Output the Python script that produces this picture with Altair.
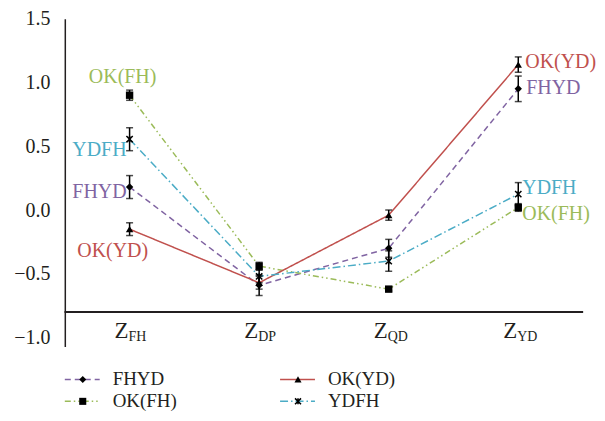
import altair as alt
import pandas as pd

# ---------------- data ----------------
categories = ["Z_FH", "Z_DP", "Z_QD", "Z_YD"]
cat_subs = ["FH", "DP", "QD", "YD"]
series = ["FHYD", "OK(FH)", "OK(YD)", "YDFH"]

fhyd = [0.18, -0.59, -0.30, 0.95]
fhyd_err = [0.09, 0.08, 0.07, 0.10]
okfh = [0.90, -0.44, -0.62, 0.02]
okfh_err = [0.04, 0.03, 0.015, 0.03]
okyd = [-0.15, -0.57, -0.04, 1.14]
okyd_err = [0.05, 0.05, 0.04, 0.06]
ydfh = [0.555, -0.52, -0.40, 0.125]
ydfh_err = [0.09, 0.05, 0.08, 0.09]

y_ticks = [-1.0, -0.5, 0.0, 0.5, 1.0, 1.5]

# ---------------- styles ----------------
colors = ["#8064A2", "#9BBB59", "#C0504D", "#4BACC6"]
dashes = [[6, 4], [6, 3, 1.5, 3, 1.5, 3], [1, 0], [8, 3, 1.5, 3]]
star_path = "M-1,-1L1,1M-1,1L1,-1M0,-1L0,1"
FONT = "Liberation Serif"
INK = "#231f20"

vals = {"FHYD": (fhyd, fhyd_err), "OK(FH)": (okfh, okfh_err),
        "OK(YD)": (okyd, okyd_err), "YDFH": (ydfh, ydfh_err)}
rows = []
for s in series:
    v, e = vals[s]
    for c, vv, ee in zip(categories, v, e):
        rows.append({"series": s, "cat": c, "value": vv, "lo": vv - ee, "hi": vv + ee})
df = pd.DataFrame(rows)

cat_df = pd.DataFrame({"cat": categories, "sub": cat_subs})

xscale = alt.Scale(type="point", domain=categories, padding=0.5)
yscale = alt.Scale(domain=[-1.07, 1.5], nice=False, zero=False)
yaxis = alt.Axis(values=y_ticks, format=".1f", ticks=False, grid=False,
                 domainColor=INK, domainWidth=1.5, labelFont=FONT,
                 labelFontSize=20, labelColor=INK, labelPadding=15, title=None)
color_scale = alt.Scale(domain=series, range=colors)
dash_scale = alt.Scale(domain=series, range=dashes)


def X(f="cat"):
    return alt.X(f"{f}:N", scale=xscale, axis=None)


def Y(f="value"):
    return alt.Y(f"{f}:Q", scale=yscale, axis=yaxis)


base = alt.Chart(df)

hline = alt.Chart(cat_df).mark_rule(color=INK, strokeWidth=1.5).encode(
    y=alt.datum(-0.8, scale=yscale, axis=yaxis),
    x=alt.value(0), x2=alt.value(520))

lines = base.mark_line(strokeWidth=1.5).encode(
    x=X(), y=Y(),
    color=alt.Color("series:N", scale=color_scale, legend=None),
    strokeDash=alt.StrokeDash("series:N", scale=dash_scale, legend=None),
    detail="series:N")

err = base.mark_rule(color="black", strokeWidth=1.5).encode(
    x=X(), y=Y("lo"), y2="hi:Q")
cap_lo = base.mark_tick(color="black", thickness=1.5, size=7, orient="horizontal").encode(
    x=X(), y=Y("lo"))
cap_hi = base.mark_tick(color="black", thickness=1.5, size=7, orient="horizontal").encode(
    x=X(), y=Y("hi"))

shape_scale = alt.Scale(domain=["FHYD", "OK(FH)", "OK(YD)"],
                        range=["diamond", "square", "triangle-up"])
filled_pts = base.transform_filter(alt.datum.series != "YDFH").mark_point(
    filled=True, color="black", opacity=1, size=55).encode(
    x=X(), y=Y(), shape=alt.Shape("series:N", scale=shape_scale, legend=None))
star_pts = base.transform_filter(alt.datum.series == "YDFH").mark_point(
    shape=star_path, filled=False, color="black", strokeWidth=1.5, size=40,
    opacity=1).encode(x=X(), y=Y())

# data labels: (series, category, align, dx, dy)
label_specs = [
    ("OK(FH)", "Z_FH", "center", -7, -18),
    ("YDFH", "Z_FH", "right", -3, 11),
    ("FHYD", "Z_FH", "right", -3, 5),
    ("OK(YD)", "Z_FH", "center", -17, 22),
    ("OK(YD)", "Z_YD", "left", 7, -3),
    ("FHYD", "Z_YD", "left", 8, -1),
    ("YDFH", "Z_YD", "left", 4, -6),
    ("OK(FH)", "Z_YD", "left", 4, 7),
]
label_layers = []
for s, c, al, dx, dy in label_specs:
    label_layers.append(
        base.transform_filter((alt.datum.series == s) & (alt.datum.cat == c))
        .mark_text(align=al, baseline="middle", dx=dx, dy=dy, font=FONT,
                   fontSize=20, color=colors[series.index(s)])
        .encode(x=X(), y=Y(), text="series:N"))

z_txt = alt.Chart(cat_df).mark_text(
    text="Z", align="right", baseline="alphabetic", font=FONT, fontSize=23,
    color=INK, dx=-1).encode(x=X(), y=alt.datum(-1.0, scale=yscale, axis=yaxis))
sub_txt = alt.Chart(cat_df).mark_text(
    align="left", baseline="alphabetic", font=FONT, fontSize=14, color=INK,
    dx=-1, dy=3).encode(x=X(), y=alt.datum(-1.0, scale=yscale, axis=yaxis),
                       text="sub:N")

main = alt.layer(hline, lines, err, cap_lo, cap_hi, filled_pts, star_pts,
                 *label_layers, z_txt, sub_txt).properties(width=520, height=329)

# ---------------- legend panel ----------------
leg_df = pd.DataFrame({"series": series, "col": [0, 0, 1, 1], "row": [0, 1, 0, 1]})
lx = alt.Scale(domain=[0, 1], range=[0, 216])
ly = alt.Scale(domain=[0, 1], range=[31, 53])
leg = alt.Chart(leg_df).transform_calculate(
    x_end="datum.col + 35/216", xm="datum.col + 18/216", xt="datum.col + 48/216")
leg_line = leg.mark_rule(strokeWidth=1.5).encode(
    x=alt.X("col:Q", scale=lx, axis=None), x2="x_end:Q",
    y=alt.Y("row:Q", scale=ly, axis=None),
    color=alt.Color("series:N", scale=color_scale, legend=None),
    strokeDash=alt.StrokeDash("series:N", scale=dash_scale, legend=None))
leg_pts = leg.transform_filter(alt.datum.series != "YDFH").mark_point(
    filled=True, color="black", opacity=1, size=50).encode(
    x=alt.X("xm:Q", scale=lx, axis=None), y=alt.Y("row:Q", scale=ly, axis=None),
    shape=alt.Shape("series:N", scale=shape_scale, legend=None))
leg_star = leg.transform_filter(alt.datum.series == "YDFH").mark_point(
    shape=star_path, filled=False, color="black", strokeWidth=1.5, size=36,
    opacity=1).encode(
    x=alt.X("xm:Q", scale=lx, axis=None), y=alt.Y("row:Q", scale=ly, axis=None))
leg_txt = leg.mark_text(align="left", baseline="middle", font=FONT, fontSize=19,
                        color=INK).encode(
    x=alt.X("xt:Q", scale=lx, axis=None), y=alt.Y("row:Q", scale=ly, axis=None),
    text="series:N")
legend = alt.layer(leg_line, leg_pts, leg_star, leg_txt).properties(width=520, height=53)

chart = alt.vconcat(main, legend, spacing=0).properties(
    padding={"left": 5, "top": 0, "right": 0, "bottom": 0}
).configure_view(stroke=None).resolve_scale(color="shared")

chart.save("out.html", embed_options={"renderer": "svg", "actions": False})
